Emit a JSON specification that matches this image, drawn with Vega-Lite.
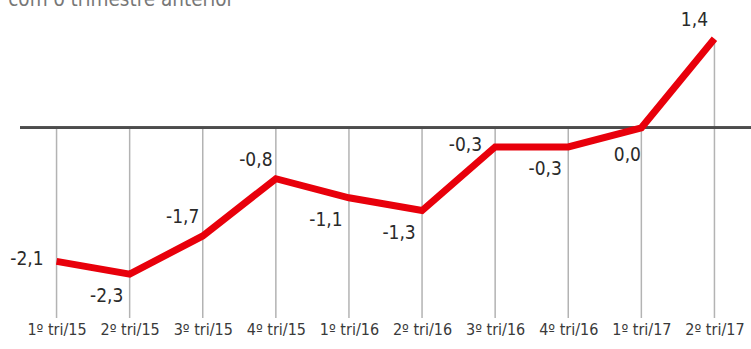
{
  "$schema": "https://vega.github.io/schema/vega-lite/v6.json",
  "autosize": {"type": "none"},
  "padding": {"left": 20, "top": 0, "right": 0, "bottom": 31},
  "width": 731,
  "height": 318,
  "background": "white",
  "config": {
    "view": {"stroke": null},
    "locale": {"number": {"decimal": ",", "thousands": ".", "grouping": [3], "currency": ["R$", ""], "minus": "-"}},
    "font": "DejaVu Sans Condensed"
  },
  "title": {"text": "com o trimestre anterior", "anchor": "start", "orient": "top", "offset": 0, "baseline": "alphabetic", "dy": 26, "dx": -2, "fontSize": 20.5, "fontWeight": "normal", "color": "#777777", "font": "DejaVu Sans Condensed"},
  "data": {"values": [
    {"tri": "1º tri/15", "v": -2.1},
    {"tri": "2º tri/15", "v": -2.3},
    {"tri": "3º tri/15", "v": -1.7},
    {"tri": "4º tri/15", "v": -0.8},
    {"tri": "1º tri/16", "v": -1.1},
    {"tri": "2º tri/16", "v": -1.3},
    {"tri": "3º tri/16", "v": -0.3},
    {"tri": "4º tri/16", "v": -0.3},
    {"tri": "1º tri/17", "v": 0.0},
    {"tri": "2º tri/17", "v": 1.4}
  ]},
  "encoding": {
    "x": {"field": "tri", "type": "ordinal", "sort": null,
      "scale": {"type": "point", "padding": 0.5},
      "axis": {"title": null, "domain": false, "ticks": false, "grid": false, "labelAngle": 0, "labelFontSize": 16, "labelColor": "#3a3a3a", "labelPadding": 3, "labelFont": "DejaVu Sans Condensed"}}
  },
  "layer": [
    {"mark": {"type": "rule", "color": "#b3b3b3", "strokeWidth": 1.5},
     "encoding": {"y": {"datum": 0, "type": "quantitative", "scale": {"domain": [-2.99, 2.01], "nice": false, "zero": false}, "axis": null}, "y2": {"datum": -2.99}}},
    {"transform": [{"filter": "datum.v > 0"}],
     "mark": {"type": "rule", "color": "#b3b3b3", "strokeWidth": 1.5},
     "encoding": {"y": {"field": "v", "type": "quantitative"}, "y2": {"datum": 0}}},
    {"mark": {"type": "rule", "color": "#4d4d4d", "strokeWidth": 2},
     "encoding": {"x": null, "y": {"datum": 0, "type": "quantitative"}}},
    {"mark": {"type": "line", "color": "#e8000b", "strokeWidth": 7, "strokeJoin": "miter", "strokeCap": "butt"},
     "encoding": {"y": {"field": "v", "type": "quantitative"}}},
    {"transform": [{"filter": {"field": "tri", "oneOf": ["1º tri/15", "3º tri/16"]}}],
     "mark": {"type": "text", "align": "right", "baseline": "middle", "dx": -13, "dy": -2, "fontSize": 19, "color": "#2a2a2a"},
     "encoding": {"y": {"field": "v", "type": "quantitative"}, "text": {"field": "v", "type": "quantitative", "format": ".1f"}}},
    {"transform": [{"filter": {"field": "tri", "oneOf": ["3º tri/15", "4º tri/15", "2º tri/17"]}}],
     "mark": {"type": "text", "align": "center", "baseline": "middle", "dx": -20, "dy": -19, "fontSize": 19, "color": "#2a2a2a"},
     "encoding": {"y": {"field": "v", "type": "quantitative"}, "text": {"field": "v", "type": "quantitative", "format": ".1f"}}},
    {"transform": [{"filter": {"field": "tri", "oneOf": ["2º tri/15", "1º tri/16", "2º tri/16", "4º tri/16"]}}],
     "mark": {"type": "text", "align": "center", "baseline": "middle", "dx": -23, "dy": 22, "fontSize": 19, "color": "#2a2a2a"},
     "encoding": {"y": {"field": "v", "type": "quantitative"}, "text": {"field": "v", "type": "quantitative", "format": ".1f"}}},
    {"transform": [{"filter": {"field": "tri", "oneOf": ["1º tri/17"]}}],
     "mark": {"type": "text", "align": "center", "baseline": "middle", "dx": -14, "dy": 27, "fontSize": 19, "color": "#2a2a2a"},
     "encoding": {"y": {"field": "v", "type": "quantitative"}, "text": {"field": "v", "type": "quantitative", "format": ".1f"}}}
  ]
}
